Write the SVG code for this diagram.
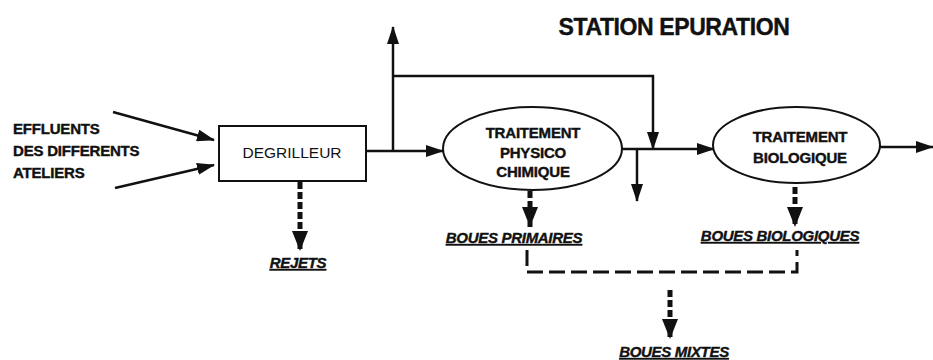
<svg xmlns="http://www.w3.org/2000/svg" width="933" height="360" viewBox="0 0 933 360">
<style>
text{font-family:"Liberation Sans",Arial,sans-serif;fill:#111;}
.b{font-weight:bold;font-size:15px;letter-spacing:-0.2px;stroke:#111;stroke-width:0.4;}
.c{text-anchor:middle;}
.u{font-weight:bold;font-style:italic;font-size:15px;letter-spacing:-0.3px;text-decoration:underline;stroke:#111;stroke-width:0.4;}
.ln{fill:none;stroke:#111;stroke-width:2.5;}
.dl{fill:none;stroke:#111;stroke-width:5;stroke-dasharray:7 3;}
.br{fill:none;stroke:#111;stroke-width:3;stroke-dasharray:16 6;}
.shape{fill:#fff;stroke:#111;stroke-width:2;}
</style>
<defs>
<marker id="a" markerUnits="userSpaceOnUse" markerWidth="18" markerHeight="12" refX="17" refY="6" orient="auto">
<path d="M0,0 L18,6 L0,12 z" fill="#111"/>
</marker>
<marker id="d" markerUnits="userSpaceOnUse" markerWidth="20" markerHeight="16" refX="20" refY="8" orient="auto">
<path d="M0,0 L20,8 L0,16 z" fill="#111"/>
</marker>
</defs>
<text class="b" x="674" y="35" text-anchor="middle" style="font-size:23px;letter-spacing:-0.4px">STATION EPURATION</text>
<g id="effluents">
<text class="b" x="13" y="134">EFFLUENTS</text>
<text class="b" x="13" y="156">DES DIFFERENTS</text>
<text class="b" x="13" y="178">ATELIERS</text>
</g>
<g id="connectors">
<line class="ln" x1="113" y1="112" x2="214" y2="140" marker-end="url(#a)"/>
<line class="ln" x1="115" y1="188" x2="214" y2="165" marker-end="url(#a)"/>
<line class="ln" x1="366" y1="151" x2="443" y2="151" marker-end="url(#a)"/>
<line class="ln" x1="393" y1="151" x2="393" y2="27" marker-end="url(#a)"/>
<polyline class="ln" points="393,76 653,76 653,149" marker-end="url(#a)"/>
<line class="ln" x1="622" y1="149" x2="714" y2="149" marker-end="url(#a)"/>
<line class="ln" x1="637" y1="149" x2="637" y2="201" marker-end="url(#a)"/>
<line class="ln" x1="880" y1="147" x2="933" y2="147" marker-end="url(#a)"/>
<line class="dl" x1="300" y1="182" x2="300" y2="251" marker-end="url(#d)"/>
<line class="dl" x1="530" y1="191" x2="530" y2="227" marker-end="url(#d)"/>
<line class="dl" x1="795" y1="187" x2="795" y2="227" marker-end="url(#d)"/>
<polyline class="br" points="527,250 527,272 797,272 797,250"/>
<line class="dl" x1="670" y1="290" x2="670" y2="339" marker-end="url(#d)"/>
</g>
<g id="degrilleur">
<rect class="shape" x="219" y="126" width="147" height="55"/>
<text x="292" y="158" class="c" style="font-size:15.5px">DEGRILLEUR</text>
</g>
<g id="physico">
<ellipse class="shape" cx="532.5" cy="148.5" rx="89.5" ry="41.5"/>
<text class="b c" x="533" y="138">TRAITEMENT</text>
<text class="b c" x="533" y="158">PHYSICO</text>
<text class="b c" x="533" y="177">CHIMIQUE</text>
</g>
<g id="biologique">
<ellipse class="shape" cx="796.5" cy="145" rx="83.5" ry="38"/>
<text class="b c" x="800" y="142">TRAITEMENT</text>
<text class="b c" x="800" y="163">BIOLOGIQUE</text>
</g>
<g id="rejets"><text class="u c" x="298" y="268">REJETS</text></g>
<g id="boues-primaires"><text class="u c" x="514" y="243">BOUES PRIMAIRES</text></g>
<g id="boues-biologiques"><text class="u c" x="780" y="241">BOUES BIOLOGIQUES</text></g>
<g id="boues-mixtes"><text class="u c" x="674" y="357">BOUES MIXTES</text></g>
</svg>
